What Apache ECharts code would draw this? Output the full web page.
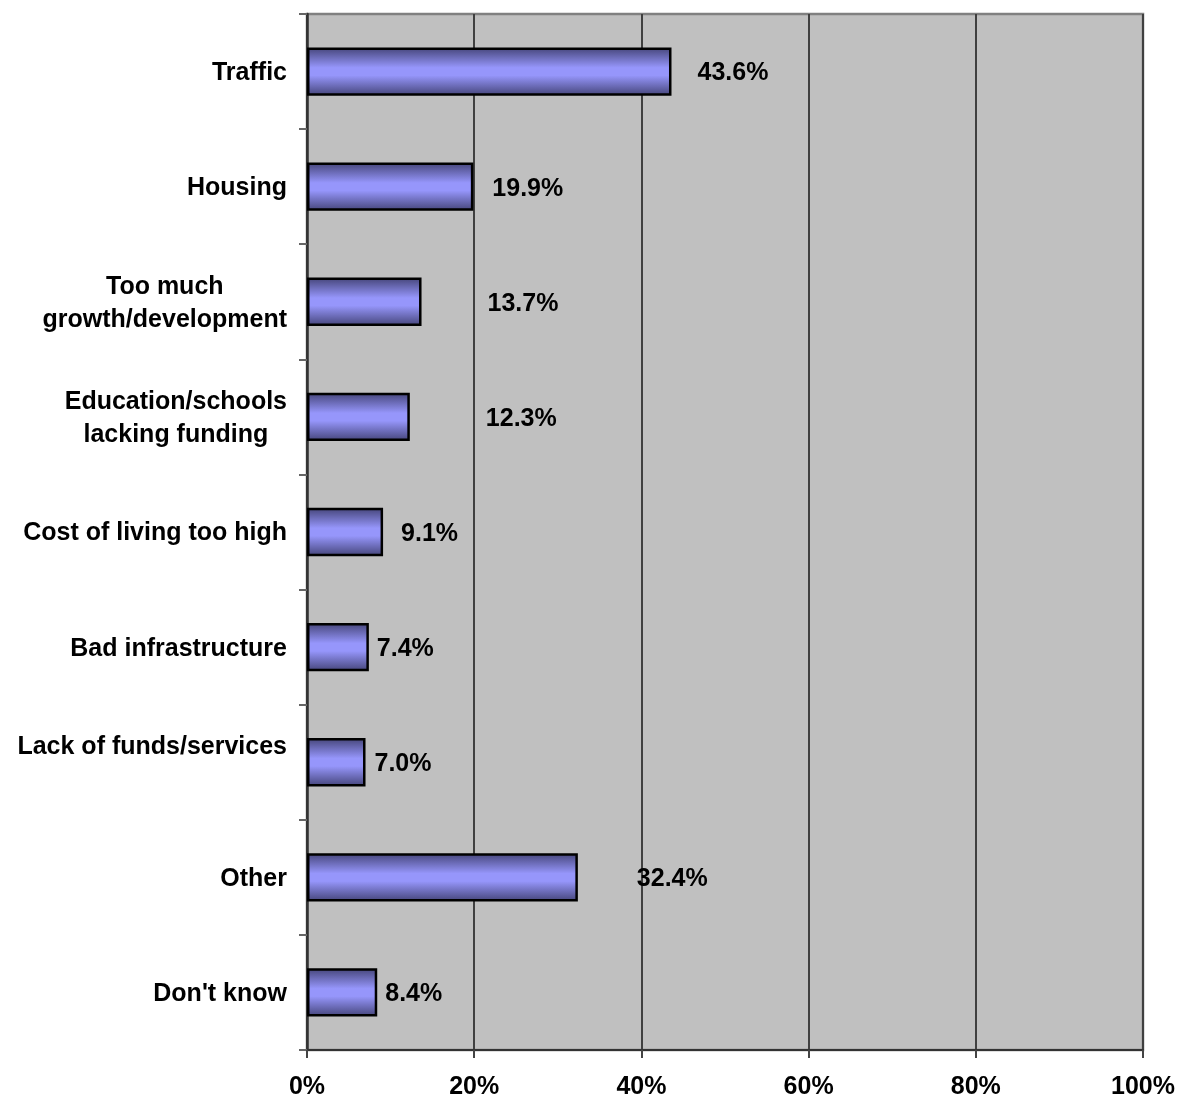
<!DOCTYPE html>
<html>
<head>
<meta charset="utf-8">
<title>Top issues</title>
<script src="https://cdn.jsdelivr.net/npm/echarts@6/dist/echarts.min.js"></script>
<style>
  html, body { margin: 0; padding: 0; background: #ffffff; }
  #chart { width: 1181px; height: 1099px; }
</style>
</head>
<body>
<div id="chart"></div>
<script>
// Survey responses: most important problem facing the area (percent of respondents)
const categories = [
  'Traffic',
  'Housing',
  'Too much\ngrowth/development',
  'Education/schools\nlacking funding',
  'Cost of living too high',
  'Bad infrastructure',
  'Lack of funds/services\n',
  'Other',
  "Don't know"
];
const values = [43.6, 19.9, 13.7, 12.3, 9.1, 7.4, 7.0, 32.4, 8.4];
const percentTicks = [0, 20, 40, 60, 80, 100];

// Gap between each bar end and its value label
const labelGaps = [26, 19, 66, 76, 18, 8, 9, 59, 8];

const FONT = '"Liberation Sans", Arial, sans-serif';

const barFill = new echarts.graphic.LinearGradient(0, 0, 0, 1, [
  { offset: 0, color: '#444478' },
  { offset: 0.42, color: '#9696fb' },
  { offset: 0.58, color: '#9696fb' },
  { offset: 1, color: '#444478' }
]);

const chart = echarts.init(document.getElementById('chart'), null, { renderer: 'canvas' });

chart.setOption({
  animation: false,
  backgroundColor: '#ffffff',
  grid: {
    left: 307,
    right: 38,
    top: 14,
    bottom: 49,
    outerBoundsMode: 'none',
    containLabel: false,
    show: true,
    backgroundColor: '#c0c0c0',
    borderColor: '#808080',
    borderWidth: 2.5
  },
  xAxis: {
    type: 'value',
    min: percentTicks[0],
    max: percentTicks[percentTicks.length - 1],
    interval: percentTicks[1] - percentTicks[0],
    axisLine: { show: true, lineStyle: { color: '#333333', width: 2 } },
    axisTick: { show: true, length: 8, lineStyle: { color: '#444444', width: 2 } },
    splitLine: { show: true, lineStyle: { color: '#404040', width: 2 } },
    axisLabel: {
      margin: 25,
      formatter: '{value}%',
      color: '#000000',
      fontFamily: FONT,
      fontWeight: 'bold',
      fontSize: 25
    }
  },
  yAxis: {
    type: 'category',
    inverse: true,
    data: categories,
    axisLine: { show: true, lineStyle: { color: '#333333', width: 2.5 } },
    axisTick: { show: true, length: 8, lineStyle: { color: '#666666', width: 2 } },
    splitLine: { show: false },
    axisLabel: {
      margin: 20,
      color: '#000000',
      fontFamily: FONT,
      fontWeight: 'bold',
      fontSize: 25,
      lineHeight: 33,
      formatter: function (name) {
        // each line centred within the label block
        return name.split('\n').map(function (s) {
          return '{c|' + (s.length ? s : ' ') + '}';
        }).join('\n');
      },
      rich: {
        c: {
          align: 'center',
          color: '#000000',
          fontFamily: FONT,
          fontWeight: 'bold',
          fontSize: 25,
          lineHeight: 33,
          padding: [3, 0, 0, 0]
        }
      }
    }
  },
  series: [{
    type: 'bar',
    barCategoryGap: '58%',
    data: values.map(function (v, i) {
      return {
        value: v,
        label: { distance: labelGaps[i] }
      };
    }),
    itemStyle: {
      color: barFill,
      borderColor: '#000000',
      borderWidth: 2.5
    },
    label: {
      show: true,
      position: 'right',
      offset: [0, 2],
      formatter: function (p) { return p.value.toFixed(1) + '%'; },
      color: '#000000',
      fontFamily: FONT,
      fontWeight: 'bold',
      fontSize: 25
    }
  }]
});
</script>
</body>
</html>
